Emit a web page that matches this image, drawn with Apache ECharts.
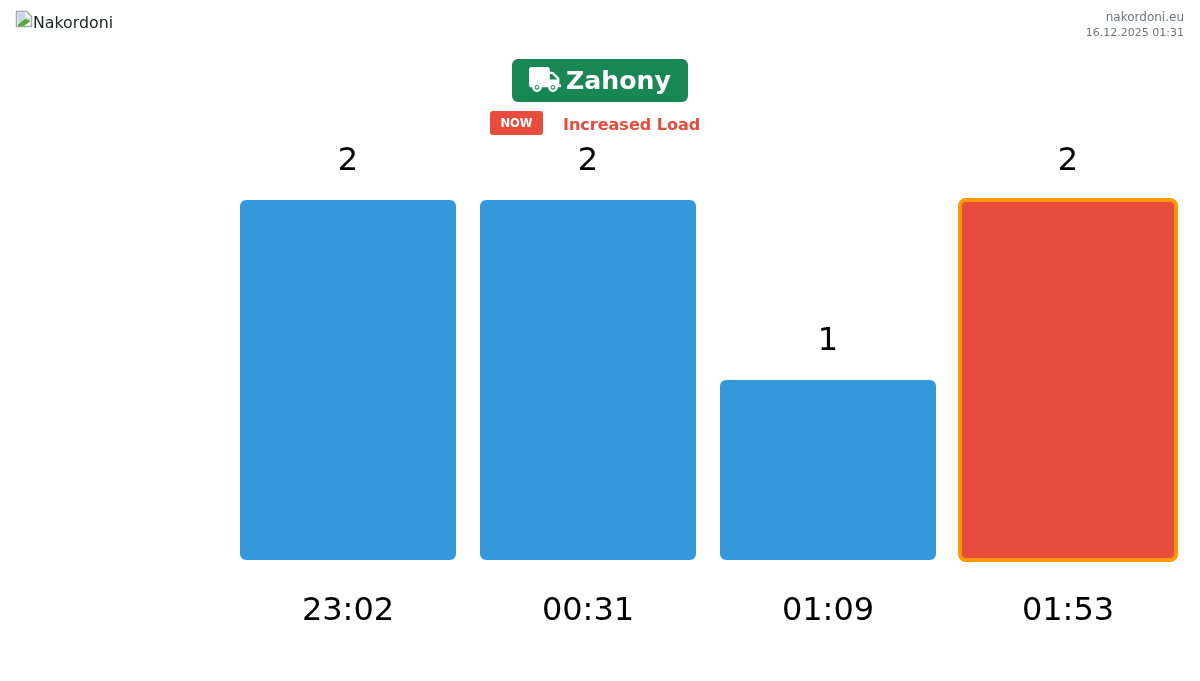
<!DOCTYPE html>
<html>
	<head>
		<meta charset="utf-8">
		<title>Nakordoni - Zahony</title>
		<script src="https://cdn.jsdelivr.net/npm/echarts@6/dist/echarts.min.js"></script>
		<style>
			html, body { margin: 0; padding: 0; background: #fff; }
		</style>
	</head>
	<body>
		<div id="main" style="width: 1200px;height:681px;"></div>

		<script type="text/javascript">
			var times = ['23:02', '00:31', '01:09', '01:53'];
			var counts = [2, 2, 1, 2];
			var currentIndex = 3; // the bar marked as "now"

			var FONT = '"DejaVu Sans", sans-serif';
			var truckPath = 'M624 352h-16V243.9c0-12.7-5.1-24.9-14.1-33.9L494 110.1c-9-9-21.2-14.1-33.9-14.1H416V48c0-26.5-21.5-48-48-48H48C21.5 0 0 21.5 0 48v320c0 26.5 21.5 48 48 48h16c0 53 43 96 96 96s96-43 96-96h128c0 53 43 96 96 96s96-43 96-96h48c8.8 0 16-7.2 16-16v-32c0-8.8-7.2-16-16-16zM160 464c-26.5 0-48-21.5-48-48s21.5-48 48-48 48 21.5 48 48-21.5 48-48 48zm320 0c-26.5 0-48-21.5-48-48s21.5-48 48-48 48 21.5 48 48-21.5 48-48 48zm80-208H416V144h44.1l99.9 99.9V256z';

			// graphic component has no plain 'path' type, so register the icon as a shape
			echarts.graphic.registerShape('truck', echarts.graphic.extendPath(truckPath, {}));

			// custom bars: a normal bar series insets its border, here it sits on the edge
			function renderBar(params, api) {
				var top = api.coord([api.value(0), api.value(1)]);
				var base = api.coord([api.value(0), 0]);
				var w = api.size([1, 0])[0] * 0.9;
				var isNow = params.dataIndex === currentIndex;
				return {
					type: 'group',
					children: [{
						type: 'rect',
						shape: { x: top[0] - w / 2, y: top[1], width: w, height: base[1] - top[1], r: 6 },
						style: isNow
							? { fill: '#e74c3c', stroke: '#ff9800', lineWidth: 4 }
							: { fill: '#3498db' }
					}, {
						type: 'text',
						x: top[0],
						y: top[1] - 38,
						style: {
							text: String(api.value(1)),
							font: '32px ' + FONT,
							fill: '#000',
							textAlign: 'center',
							textVerticalAlign: 'middle'
						}
					}]
				};
			}

			var myChart = echarts.init(document.getElementById('main'), null, { renderer: 'canvas' });
			var option = {
				animation: false,
				backgroundColor: '#fff',
				textStyle: { fontFamily: FONT },
				grid: { left: 228, right: 12, top: 200, bottom: 121 },
				xAxis: {
					type: 'category',
					data: times,
					axisLine: { show: false },
					axisTick: { show: false },
					axisLabel: { color: '#000', fontSize: 32, fontFamily: FONT, margin: 36 }
				},
				yAxis: { type: 'value', min: 0, max: 2, show: false },
				series: [{
					type: 'custom',
					renderItem: renderBar,
					clip: false,
					encode: { x: 0, y: 1 },
					data: counts.map(function (v, i) { return [i, v]; })
				}],
				graphic: [
					// broken image placeholder
					{ type: 'polygon', shape: { points: [[16.5, 26.5], [16.5, 11.5], [26.5, 11.5], [31.5, 16.5], [31.5, 26.5]] }, style: { fill: '#fff', stroke: '#a6a6a6', lineWidth: 1.5 } },
					{ type: 'polygon', shape: { points: [[18, 13], [25.5, 13], [25.5, 17.5], [30, 17.5], [30, 20], [25, 18], [18, 24]] }, style: { fill: '#c6d6ef' } },
					{ type: 'polygon', shape: { points: [[18, 26], [18, 24.5], [25, 18.5], [30, 20.5], [30, 21.5], [24, 26]] }, style: { fill: '#5aa63c' } },
					{ type: 'text', x: 33, y: 24, style: { text: 'Nakordoni', font: '15.8px ' + FONT, fill: '#212529', textVerticalAlign: 'middle' } },

					{ type: 'text', x: 1184, y: 18, style: { text: 'nakordoni.eu', font: '12px ' + FONT, fill: '#6c757d', textAlign: 'right', textVerticalAlign: 'middle' } },
					{ type: 'text', x: 1184, y: 33, style: { text: '16.12.2025 01:31', font: '11px ' + FONT, fill: '#6c757d', textAlign: 'right', textVerticalAlign: 'middle' } },

					// station badge
					{ type: 'rect', shape: { x: 512, y: 59, width: 176, height: 43, r: 6 }, style: { fill: '#198754' } },
					{ type: 'truck', x: 529, y: 67, scaleX: 32 / 640, scaleY: 25 / 512, style: { fill: '#fff' } },
					{ type: 'circle', shape: { cx: 537, cy: 87.3, r: 1.3 }, style: { fill: '#fff' } },
					{ type: 'circle', shape: { cx: 553, cy: 87.3, r: 1.3 }, style: { fill: '#fff' } },
					{ type: 'text', x: 566, y: 82, style: { text: 'Zahony', font: 'bold 25.2px ' + FONT, fill: '#fff', textVerticalAlign: 'middle' } },

					// status line
					{ type: 'rect', shape: { x: 490, y: 111, width: 53, height: 24, r: 3 }, style: { fill: '#e74c3c' } },
					{ type: 'text', x: 516.5, y: 124.5, style: { text: 'NOW', font: 'bold 11.5px ' + FONT, fill: '#fff', textAlign: 'center', textVerticalAlign: 'middle' } },
					{ type: 'text', x: 563, y: 126, style: { text: 'Increased Load', font: 'bold 16px ' + FONT, fill: '#e74c3c', textVerticalAlign: 'middle' } }
				]
			};

			myChart.setOption(option);
		</script>
	</body>
</html>
